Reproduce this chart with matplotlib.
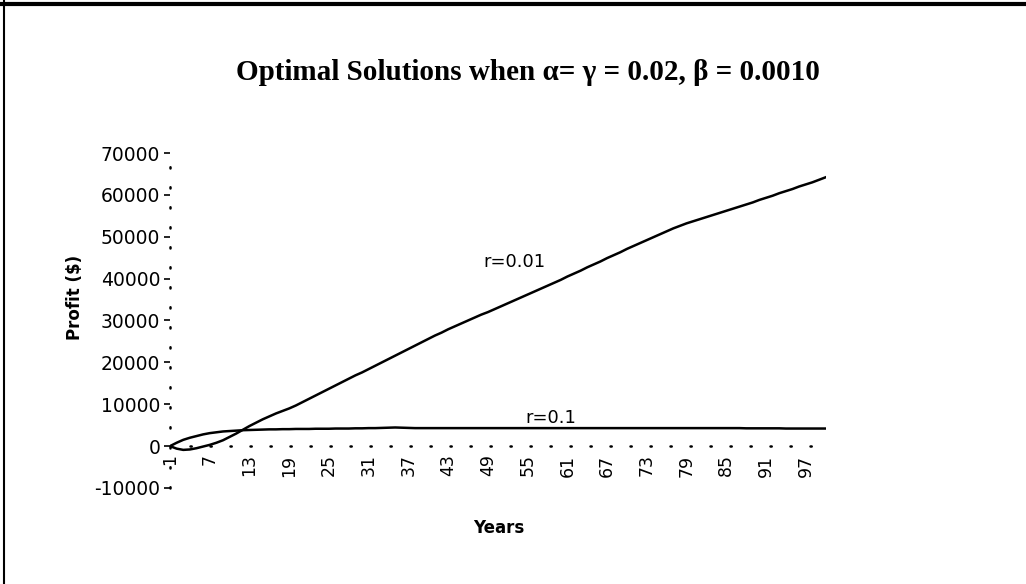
import matplotlib
matplotlib.use('Agg')
import matplotlib.pyplot as plt
from matplotlib.lines import Line2D

# font dictionaries
title_font = {'family': 'Liberation Serif', 'size': 21, 'weight': 'bold'}
axis_font = {'family': 'DejaVu Sans', 'size': 12, 'weight': 'bold'}
ticks_font = {'family': 'DejaVu Sans', 'size': 13.5}

years = list(range(1, 101))

profit_r001 = [0, -600, -900, -800, -500, -100, 300, 800, 1400, 2200,
               3000, 3900, 4800, 5600, 6400, 7100, 7800, 8400, 9000, 9700,
               10500, 11300, 12100, 12900, 13700, 14500, 15300, 16100, 16900, 17600,
               18400, 19200, 20000, 20800, 21600, 22400, 23200, 24000, 24800, 25600,
               26400, 27100, 27900, 28600, 29300, 30000, 30700, 31400, 32000, 32700,
               33400, 34100, 34800, 35500, 36200, 36900, 37600, 38300, 39000, 39700,
               40500, 41200, 41900, 42700, 43400, 44100, 44900, 45600, 46300, 47100,
               47800, 48500, 49200, 49900, 50600, 51300, 52000, 52600, 53200, 53700,
               54200, 54700, 55200, 55700, 56200, 56700, 57200, 57700, 58200, 58800,
               59300, 59800, 60400, 60900, 61400, 62000, 62500, 63000, 63600, 64200]

profit_r01 = [0, 800, 1500, 2000, 2400, 2800, 3100, 3300, 3500, 3600,
              3700, 3800, 3850, 3900, 3950, 4000, 4000, 4050, 4050, 4100,
              4100, 4100, 4150, 4150, 4150, 4200, 4200, 4200, 4250, 4250,
              4300, 4300, 4350, 4400, 4450, 4400, 4350, 4300, 4300, 4300,
              4300, 4300, 4300, 4300, 4300, 4300, 4300, 4300, 4300, 4300,
              4300, 4300, 4300, 4300, 4300, 4300, 4300, 4300, 4300, 4300,
              4300, 4300, 4300, 4300, 4300, 4300, 4300, 4300, 4300, 4300,
              4300, 4300, 4300, 4300, 4300, 4300, 4300, 4300, 4300, 4300,
              4300, 4300, 4300, 4300, 4300, 4300, 4300, 4250, 4250, 4250,
              4250, 4250, 4250, 4200, 4200, 4200, 4200, 4200, 4200, 4200]

yticks = list(range(-10000, 70001, 10000))
xticks = list(range(1, 101, 6))

fig = plt.figure(figsize=(10.26, 5.84), dpi=100)
ax = fig.add_axes([0.1657, 0.1644, 0.639, 0.5736])

ax.plot(years, profit_r001, color='black', lw=1.8)
ax.plot(years, profit_r01, color='black', lw=1.8)

ax.set_xlim(1, 100)
ax.set_ylim(-10000, 70000)

# dotted axis lines, x axis crossing at 0
for s in ['top', 'right']:
    ax.spines[s].set_visible(False)
ax.spines['bottom'].set_position(('data', 0))
for s in ['bottom', 'left']:
    ax.spines[s].set_linewidth(1.8)
    ax.spines[s].set_capstyle('round')
    ax.spines[s].set_linestyle((0, (0.5, 7.5)))
ax.tick_params(axis='y', direction='out', length=4, width=1.2, pad=3)
ax.tick_params(axis='x', length=0, pad=6, labelrotation=90)

ax.set_yticks(yticks)
ax.set_xticks(xticks)
ax.set_xticklabels([str(x) for x in xticks], rotation=90, family='DejaVu Sans', size=12.5)
ax.set_yticklabels([str(y) for y in yticks], **ticks_font)

ax.annotate('r=0.01', xy=(53, 44000), ha='center', va='center', fontsize=13, family='DejaVu Sans')
ax.annotate('r=0.1', xy=(58.5, 6700), ha='center', va='center', fontsize=13, family='DejaVu Sans')

fig.text(0.515, 0.875, 'Optimal Solutions when α= γ = 0.02, β = 0.0010',
         ha='center', va='center', **title_font)
fig.text(0.073, 0.49, 'Profit ($)', rotation=90, ha='center', va='center', **axis_font)
fig.text(0.486, 0.096, 'Years', ha='center', va='center', **axis_font)

# scanned frame: top and left border
fig.add_artist(Line2D([0, 1], [0.994, 0.994], transform=fig.transFigure, color='black', lw=3))
fig.add_artist(Line2D([0.004, 0.004], [0, 1], transform=fig.transFigure, color='black', lw=1.5))

plt.savefig('out.png', dpi=100)
